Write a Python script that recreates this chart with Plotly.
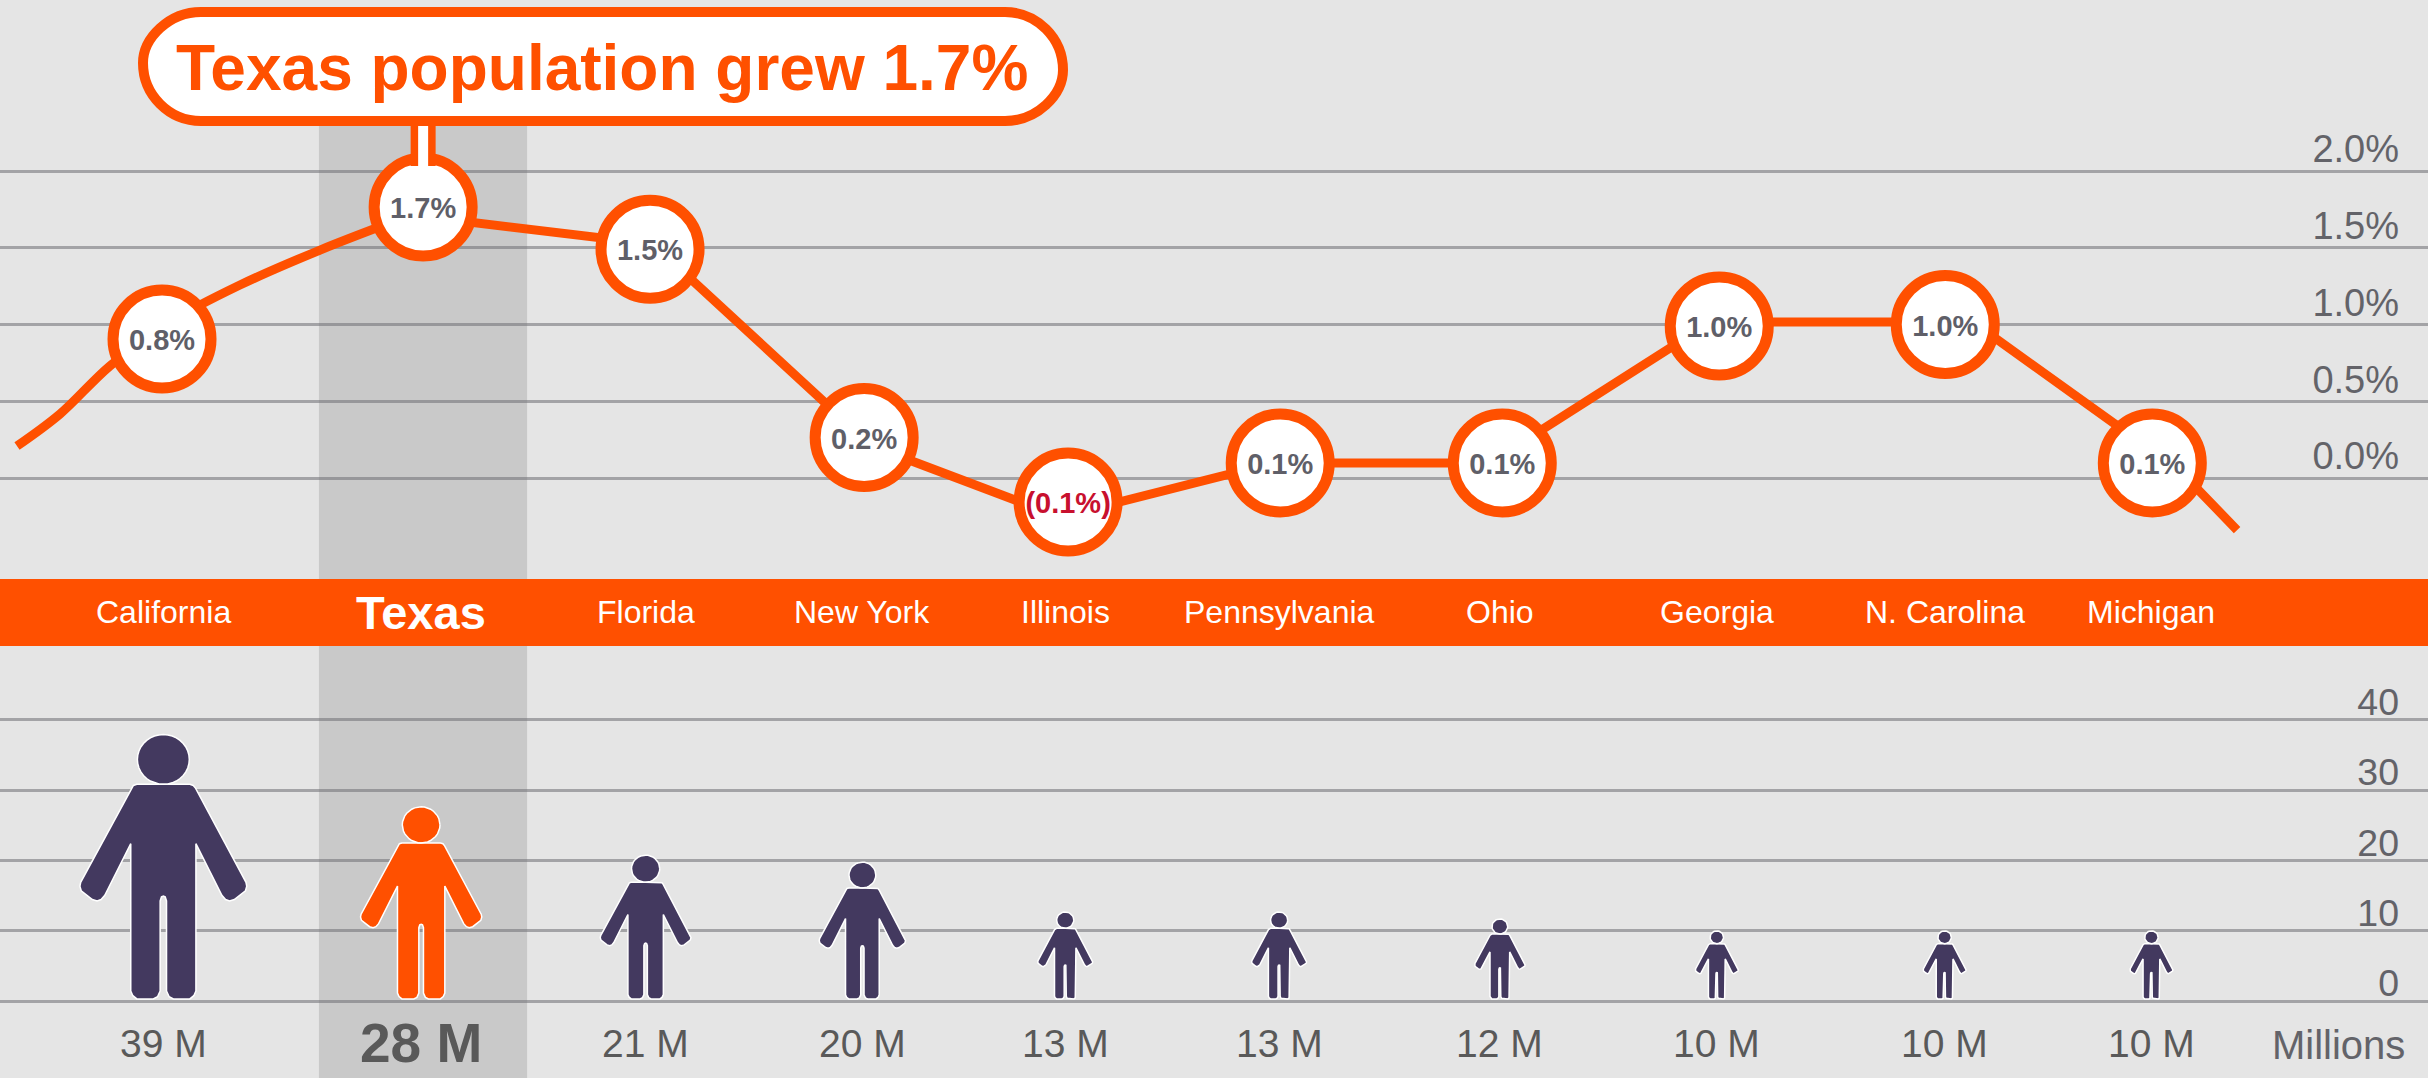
import math
import plotly.graph_objects as go

# ---- data ----
states = ["California", "Texas", "Florida", "New York", "Illinois",
          "Pennsylvania", "Ohio", "Georgia", "N. Carolina", "Michigan"]
# bubble row
bubble_slot = [0.734, 1.917, 2.945, 3.915, 4.839, 5.80, 6.806, 7.789, 8.813, 9.751]
bubble_growth = [0.905, 1.765, 1.49, 0.264, -0.156, 0.098, 0.098, 0.99, 1.0, 0.098]
growth_labels = ["0.8%", "1.7%", "1.5%", "0.2%", "(0.1%)", "0.1%", "0.1%", "1.0%", "1.0%", "0.1%"]
# orange line, traced separately: its bends do not sit at the bubble centres
curve_slot = [0.077, 0.272, 0.498, 0.770, 1.087, 1.450, 1.862]
curve_growth = [0.208, 0.417, 0.730, 1.016, 1.257, 1.485, 1.713]
line_slot = [1.862, 2.958, 3.951, 4.802, 5.772, 6.750, 7.751, 8.938, 9.872, 10.135]
line_growth = [1.713, 1.524, 0.208, -0.254, 0.098, 0.098, 1.016, 1.016, 0.052, -0.339]
# labels and people row
row_slot = [0.74, 1.908, 2.925, 3.907, 4.826, 5.795, 6.795, 7.778, 8.81, 9.747]
population_plotted = [38.0, 27.7, 20.8, 19.8, 12.7, 12.7, 11.7, 10.0, 10.0, 10.0]
population_labels = ["39 M", "28 M", "21 M", "20 M", "13 M", "13 M", "12 M", "10 M", "10 M", "10 M"]
growth_ticks = [0, 0.5, 1.0, 1.5, 2.0]
growth_ticktext = ["0.0%", "0.5%", "1.0%", "1.5%", "2.0%"]
population_ticks = [0, 10, 20, 30, 40]
headline = "Texas population grew 1.7%"
highlight = "Texas"

# ---- style ----
W, H = 2428, 1078
ORANGE, NAVY, BG, BAND = "#ff5000", "#43395f", "#e5e5e5", "#c9c9c9"
GRID = "rgba(118,118,124,0.6)"
TICK, VALUE, PCT, RED = "#636369", "#595959", "#5f5f68", "#c8102e"
FONT = "Liberation Sans"
TOP_END, MID_END = 579, 646
X_RANGE = [0, 11]
Y1_RANGE = [-0.658, 3.114]
Y2_RANGE = [-10.96, 50.53]
TEXT_DROP = 0.025


def py(p):
    return 1 - p / H


def px_x(p):
    return p / W * X_RANGE[1]


# unit person, height 1: right half outline from shoulder to crotch
HALF = [(0, .81), (.10, .81), (.113, .806), (.122, .795), (.312, .44), (.315, .425), (.31, .408),
        (.268, .375), (.25, .37), (.235, .375), (.221, .391), (.123, .586), (.123, .03),
        (.115, .012), (.10, 0), (.038, 0), (.022, .008), (.012, .03), (.012, .37), (.007, .385), (0, .388)]
x_per_px = (X_RANGE[1] - X_RANGE[0]) / W
y_px_per_unit = (H - MID_END) / (Y2_RANGE[1] - Y2_RANGE[0])
FOOT = 0.3


def person(cx, top):
    h = top - FOOT
    k = h * y_px_per_unit * x_per_px
    body = HALF + [(-a, b) for a, b in reversed(HALF[:-1])]
    xs = [cx + a * k for a, b in body] + [None]
    ys = [FOOT + b * h for a, b in body] + [None]
    for i in range(37):
        t = 2 * math.pi * i / 36
        xs.append(cx + 0.098 * math.cos(t) * k)
        ys.append(FOOT + (0.904 + 0.094 * math.sin(t)) * h)
    return xs, ys


fig = go.Figure()

# growth line: curved lead-in, straight afterwards
fig.add_trace(go.Scatter(
    x=curve_slot, y=curve_growth,
    mode="lines", line=dict(color=ORANGE, width=9, shape="spline", smoothing=1),
    hoverinfo="skip", showlegend=False))
fig.add_trace(go.Scatter(
    x=line_slot, y=line_growth,
    mode="lines", line=dict(color=ORANGE, width=9),
    hoverinfo="skip", showlegend=False))
fig.add_trace(go.Scatter(
    x=bubble_slot, y=bubble_growth, mode="markers",
    marker=dict(size=98, color="white", line=dict(color=ORANGE, width=11)),
    hoverinfo="skip", showlegend=False))
fig.add_trace(go.Scatter(
    x=bubble_slot, y=[g - TEXT_DROP for g in bubble_growth], mode="text", text=growth_labels,
    textposition="middle center",
    textfont=dict(family=FONT, size=29, weight="bold",
                  color=[RED if t.startswith("(") else PCT for t in growth_labels]),
    hoverinfo="skip", showlegend=False))

# people
for s, slot, pop in zip(states, row_slot, population_plotted):
    xs, ys = person(slot, pop)
    c = ORANGE if s == highlight else NAVY
    fig.add_trace(go.Scatter(x=xs, y=ys, yaxis="y2", mode="lines", fill="toself", fillcolor=c,
                             line=dict(color="white", width=1.5), name=s,
                             hoverinfo="name", showlegend=False))

hi = states.index(highlight)
hx = bubble_slot[hi]


def pill(x0, y0, x1, y1, r):
    k = r * 0.45
    pts = [f"M{px_x(x0 + r)},{py(y0)}", f"L{px_x(x1 - r)},{py(y0)}",
           f"C{px_x(x1 - k)},{py(y0)} {px_x(x1)},{py(y0 + k)} {px_x(x1)},{py(y0 + r)}",
           f"C{px_x(x1)},{py(y1 - k)} {px_x(x1 - k)},{py(y1)} {px_x(x1 - r)},{py(y1)}",
           f"L{px_x(x0 + r)},{py(y1)}",
           f"C{px_x(x0 + k)},{py(y1)} {px_x(x0)},{py(y1 - k)} {px_x(x0)},{py(y1 - r)}",
           f"C{px_x(x0)},{py(y0 + k)} {px_x(x0 + k)},{py(y0)} {px_x(x0 + r)},{py(y0)}", "Z"]
    return " ".join(pts)


shapes = [
    # highlight column, below the gridlines
    dict(type="rect", xref="x", yref="paper", x0=1.445, x1=2.388, y0=0, y1=py(122),
         fillcolor=BAND, line_width=0, layer="below"),
    # orange band
    dict(type="rect", xref="paper", yref="paper", x0=0, x1=1, y0=py(MID_END), y1=py(TOP_END),
         fillcolor=ORANGE, line_width=0, layer="above"),
    # callout stem
    dict(type="rect", xref="x", yref="paper", x0=hx - px_x(12.5), x1=hx + px_x(12.5), y0=py(166), y1=py(118),
         fillcolor=ORANGE, line_width=0, layer="above"),
    dict(type="rect", xref="x", yref="paper", x0=hx - px_x(5), x1=hx + px_x(5), y0=py(166), y1=py(118),
         fillcolor="white", line_width=0, layer="above"),
    # callout box
    dict(type="path", xref="x", yref="paper", path=pill(143, 12, 1063, 121, 58),
         fillcolor="white", line=dict(color=ORANGE, width=10), layer="above"),
]

annotations = [
    dict(x=px_x(602), xref="x", y=py(68), yref="paper", text=f"<b>{headline}</b>", showarrow=False,
         font=dict(family=FONT, size=64, color=ORANGE), xanchor="center", yanchor="middle"),
    dict(x=1, xref="paper", xshift=-21, y=-6.2, yref="y2", text="Millions", showarrow=False,
         font=dict(family=FONT, size=40, color=TICK), xanchor="right", yanchor="middle"),
]
for s, slot, lab in zip(states, row_slot, population_labels):
    big = s == highlight
    annotations.append(dict(x=slot, xref="x", y=py(612), yref="paper",
                            text=f"<b>{s}</b>" if big else s, showarrow=False,
                            font=dict(family=FONT, size=47 if big else 32, color="white"),
                            xanchor="center", yanchor="middle"))
    annotations.append(dict(x=slot, xref="x", y=-6.0, yref="y2",
                            text=f"<b>{lab}</b>" if big else lab, showarrow=False,
                            font=dict(family=FONT, size=55 if big else 39, color=VALUE),
                            xanchor="center", yanchor="middle"))

fig.update_layout(
    width=W, height=H, margin=dict(l=0, r=0, t=0, b=0),
    paper_bgcolor=BG, plot_bgcolor="rgba(0,0,0,0)", showlegend=False,
    xaxis=dict(range=X_RANGE, visible=False, fixedrange=True),
    yaxis=dict(domain=[py(TOP_END), 1], range=Y1_RANGE, side="right", tickvals=growth_ticks,
               ticktext=growth_ticktext, ticklabelposition="inside", ticklabelstandoff=26,
               ticklabelshift=-22, tickfont=dict(family=FONT, size=38, color=TICK), ticks="",
               showgrid=True, gridcolor=GRID, gridwidth=2.5, zeroline=False, showline=False,
               fixedrange=True),
    yaxis2=dict(domain=[0, py(MID_END)], range=Y2_RANGE, side="right", anchor="x", tickvals=population_ticks,
                ticklabelposition="inside", ticklabelstandoff=26, ticklabelshift=-18,
                tickfont=dict(family=FONT, size=37.5, color=TICK), ticks="",
                showgrid=True, gridcolor=GRID, gridwidth=2.5, zeroline=False, showline=False,
                fixedrange=True),
    shapes=shapes, annotations=annotations,
)

fig.write_html("out.html", config={"displayModeBar": False},
               post_script="document.body.style.margin='0';document.body.style.overflow='hidden';")
